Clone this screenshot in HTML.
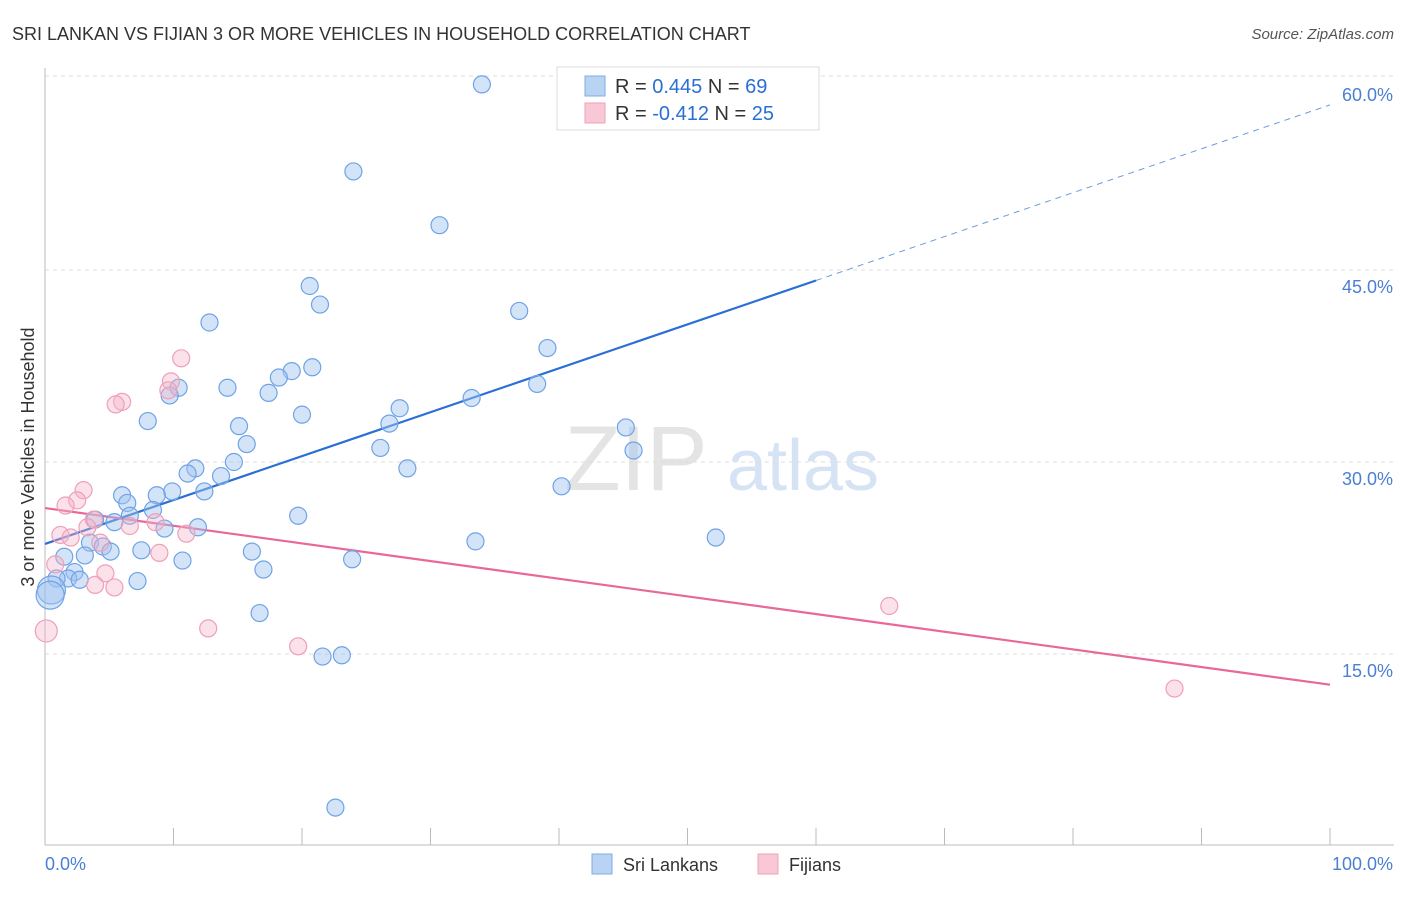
<!DOCTYPE html>
<html><head><meta charset="utf-8"><style>
body{margin:0;background:#fff;font-family:"Liberation Sans",sans-serif;}
svg text{font-family:"Liberation Sans",sans-serif;}
</style></head><body>
<svg id="chart" width="1406" height="892" xmlns="http://www.w3.org/2000/svg">
<text x="12" y="40" font-size="18" fill="#333">SRI LANKAN VS FIJIAN 3 OR MORE VEHICLES IN HOUSEHOLD CORRELATION CHART</text>
<text x="1394" y="39" font-size="15" fill="#555" font-style="italic" text-anchor="end">Source: ZipAtlas.com</text>
<text transform="translate(34,457) rotate(-90)" font-size="18" fill="#333" text-anchor="middle">3 or more Vehicles in Household</text>
<g>
<text x="636" y="490" font-size="92" fill="#e4e4e4" font-family="Liberation Serif" text-anchor="middle">ZIP</text>
<text x="803" y="490" font-size="72" fill="#d6e3f4" text-anchor="middle">atlas</text>
</g>
<g id="grid"></g><g id="axes"></g><g id="trend"></g><g id="pts"></g>
<g>
<rect x="557" y="67" width="262" height="63" fill="#fff" stroke="#ddd"/>
<rect x="585" y="76" width="20" height="20" fill="#b9d3f3" stroke="#7aaee8"/>
<rect x="585" y="103" width="20" height="20" fill="#f9c8d7" stroke="#f0a0b8"/>
<text x="615" y="93" font-size="20" fill="#333">R = <tspan fill="#2a6fd6"> 0.445</tspan>   N = <tspan fill="#2a6fd6">69</tspan></text>
<text x="615" y="120" font-size="20" fill="#333">R = <tspan fill="#2a6fd6">-0.412</tspan>   N = <tspan fill="#2a6fd6">25</tspan></text>
</g>
<g>
<rect x="592" y="854" width="20" height="20" fill="#b9d3f3" stroke="#7aaee8"/>
<text x="623" y="871" font-size="18" fill="#333">Sri Lankans</text>
<rect x="758" y="854" width="20" height="20" fill="#f9c8d7" stroke="#f0a0b8"/>
<text x="789" y="871" font-size="18" fill="#333">Fijians</text>
</g>
</svg>
<script>
const blueX=[34.0,41.5,24.0,30.7,20.6,21.4,36.9,12.8,39.1,20.8,19.2,18.2,14.2,10.4,9.7,17.4,33.2,38.3,27.6,20.0,8.0,15.1,26.8,15.7,26.1,14.7,28.2,45.2,45.8,40.2,11.7,11.1,13.7,9.9,12.4,8.7,6.0,6.4,8.4,6.6,3.9,5.4,9.3,11.9,19.7,3.5,4.5,5.1,7.5,16.1,3.1,1.5,10.7,23.9,33.5,52.2,17.0,2.3,1.8,0.9,2.7,7.2,0.5,0.4,16.7,21.6,23.1,22.6];
const blueY=[59.5,59.1,52.7,48.5,43.75,42.3,41.8,40.9,38.9,37.4,37.1,36.6,35.8,35.8,35.2,35.4,35.0,36.1,34.2,33.7,33.2,32.8,33.0,31.4,31.1,30.0,29.5,32.7,30.9,28.1,29.5,29.1,28.9,27.7,27.7,27.4,27.4,26.8,26.25,25.8,25.5,25.3,24.8,24.9,25.8,23.7,23.4,23.0,23.1,23.0,22.7,22.6,22.3,22.4,23.8,24.1,21.6,21.4,20.9,20.9,20.8,20.7,20.0,19.6,18.2,14.8,14.9,3.0];
const blueBig=[62,63];
const pinkX=[10.6,9.8,9.6,6.0,5.5,3.0,2.5,1.6,3.8,8.6,1.2,2.0,3.3,6.6,11.0,4.3,8.9,0.8,4.7,3.9,5.4,12.7,19.7,0.1,65.7,87.9];
const pinkY=[38.1,36.3,35.6,34.7,34.5,27.8,27.0,26.6,25.5,25.3,24.3,24.1,24.9,25.0,24.4,23.7,22.9,22.0,21.3,20.4,20.2,17.0,15.6,16.8,18.75,12.3];
const pinkBig=[23];
const blueTrend=[23.6,57.9]; // y at x=0 and x=100
const blueSolidEnd=60;
const pinkTrend=[26.4,12.6];
const yTicks=[15,30,45,60];
const yTickLabels=["15.0%","30.0%","45.0%","60.0%"];
const xTicks=[0,10,20,30,40,50,60,70,80,90,100];

const NS="http://www.w3.org/2000/svg";
const X=v=>45+v*12.85;
const Y=v=>654-(v-15)*12.8;
function mk(tag,attrs,parent){const e=document.createElementNS(NS,tag);for(const k in attrs)e.setAttribute(k,attrs[k]);document.getElementById(parent).appendChild(e);return e;}
yTicks.forEach((t,i)=>{
  const g=mk('line',{x1:45,x2:1394,y1:Y(t)-(t==60?2:0),y2:Y(t)-(t==60?2:0),stroke:'#ddd','stroke-dasharray':'4,4'},'grid');
  
  
  const l=mk('text',{x:1393,y:Y(t)+23,'font-size':18,fill:'#4a7fd4','text-anchor':'end'},'grid');
  l.textContent=yTickLabels[i];
  
  
});
let a=mk('line',{x1:45,x2:45,y1:68,y2:845,stroke:'#bbb'},'axes');


a=mk('line',{x1:45,x2:1394,y1:845,y2:845,stroke:'#bbb'},'axes');


xTicks.forEach(t=>{
  const tk=mk('line',{x1:X(t),x2:X(t),y1:828,y2:845,stroke:'#bbb'},'axes');
  
  
});
let t0=mk('text',{x:45,y:870,'font-size':18,fill:'#4a7fd4'},'axes');t0.textContent='0.0%';


let t1=mk('text',{x:1393,y:870,'font-size':18,fill:'#4a7fd4','text-anchor':'end'},'axes');t1.textContent='100.0%';



const by=x=>blueTrend[0]+(blueTrend[1]-blueTrend[0])*x/100;
let ln=mk('line',{x1:X(0),y1:Y(by(0)),x2:X(blueSolidEnd),y2:Y(by(blueSolidEnd)),stroke:'#2a6fd6','stroke-width':2.2},'trend');


ln=mk('line',{x1:X(blueSolidEnd),y1:Y(by(blueSolidEnd)),x2:X(100),y2:Y(by(100)),stroke:'#6a9be0','stroke-width':1,'stroke-dasharray':'6,5'},'trend');


ln=mk('line',{x1:X(0),y1:Y(pinkTrend[0]),x2:X(100),y2:Y(pinkTrend[1]),stroke:'#e8689a','stroke-width':2.2},'trend');



blueX.forEach((x,i)=>{
  const c=mk('circle',{cx:X(x),cy:Y(blueY[i]),r:blueBig.includes(i)?14:8.5,fill:'rgba(160,196,240,0.45)',stroke:'#6fa3e6','stroke-width':1.2},'pts');
  
  
});
pinkX.forEach((x,i)=>{
  const c=mk('circle',{cx:X(x),cy:Y(pinkY[i]),r:pinkBig.includes(i)?11:8.5,fill:'rgba(246,180,200,0.4)',stroke:'#eea0b9','stroke-width':1.2},'pts');
  
  
});
</script>
</body></html>
